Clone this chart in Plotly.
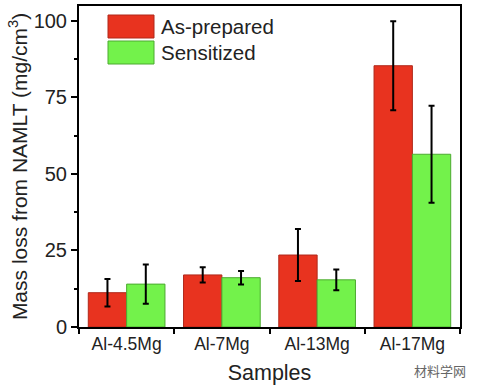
import plotly.graph_objects as go

categories = ["Al-4.5Mg", "Al-7Mg", "Al-13Mg", "Al-17Mg"]
as_prepared = [11.2, 17.0, 23.5, 85.3]
as_prepared_err = [4.5, 2.5, 8.5, 14.5]
sensitized = [14.0, 16.1, 15.4, 56.4]
sensitized_err = [6.4, 2.2, 3.4, 15.8]
series_names = ["As-prepared", "Sensitized"]
y_ticks = [0, 25, 50, 75, 100]

red = "#E8331F"
green = "#73F24B"
font_family = "Liberation Sans, Arial, sans-serif"

fig = go.Figure()
fig.add_trace(go.Bar(
    x=categories, y=as_prepared, name=series_names[0],
    marker=dict(color=red, line=dict(color="#b0281a", width=1)),
    error_y=dict(type="data", array=as_prepared_err, color="black", thickness=2, width=3),
    showlegend=False,
))
fig.add_trace(go.Bar(
    x=categories, y=sensitized, name=series_names[1],
    marker=dict(color=green, line=dict(color="#4caa30", width=1)),
    error_y=dict(type="data", array=sensitized_err, color="black", thickness=2, width=3),
    showlegend=False,
))

# manual legend (large swatches like the reference)
plot_h = 390 - 6 - 63
legend_colors = [(red, "#b0281a"), (green, "#4caa30")]
for i, (name, (fc, lc)) in enumerate(zip(series_names, legend_colors)):
    top = 1 - (9 + i * 26) / plot_h
    bot = 1 - (32 + i * 26) / plot_h
    fig.add_shape(type="rect", xref="paper", yref="paper",
                  x0=(108 - 79) / 381, x1=(154 - 79) / 381, y0=bot, y1=top,
                  fillcolor=fc, line=dict(color=lc, width=1))
    fig.add_annotation(xref="paper", yref="paper", x=(159 - 79) / 381, y=(top + bot) / 2,
                       text=name, showarrow=False, xanchor="left", yanchor="middle",
                       font=dict(size=20.5, color="#222", family=font_family))

fig.add_annotation(xref="paper", yref="paper", x=1.02, y=-0.135,
                   text="材料学网", showarrow=False, xanchor="right", yanchor="middle",
                   font=dict(size=13, color="#666", family="Noto Sans CJK SC"))

fig.update_layout(
    width=481, height=390,
    margin=dict(l=79, r=21, t=6, b=63),
    paper_bgcolor="white", plot_bgcolor="white",
    barmode="group", bargap=0.195, bargroupgap=0,
    font=dict(family=font_family, color="#222"),
    showlegend=False,
)
fig.update_xaxes(
    range=[-0.5, 3.5], showline=True, linecolor="black", linewidth=2, mirror=True,
    automargin=False,
    ticks="outside", tickson="boundaries", ticklen=5, tickwidth=1.5, tickcolor="black",
    tickfont=dict(size=17.5, color="#222"),
    title=dict(text="Samples", font=dict(size=21.5, color="#222"), standoff=12),
    showgrid=False,
)
fig.update_yaxes(
    range=[0, 104.8], showline=True, linecolor="black", linewidth=2, mirror=True,
    automargin=False,
    tickvals=y_ticks, ticks="outside", ticklen=6, tickwidth=1.5, tickcolor="black",
    minor=dict(tickvals=[12.5, 37.5, 62.5, 87.5], ticks="outside", ticklen=3, tickwidth=1.5, tickcolor="black"),
    tickfont=dict(size=20, color="#222"),
    title=dict(text="Mass loss from NAMLT (mg/cm<sup>3</sup>)", font=dict(size=21, color="#222"), standoff=0),
    showgrid=False, zeroline=False,
)

fig.write_html("out.html", config={"displayModeBar": False},
               post_script="document.body.style.margin='0';")
